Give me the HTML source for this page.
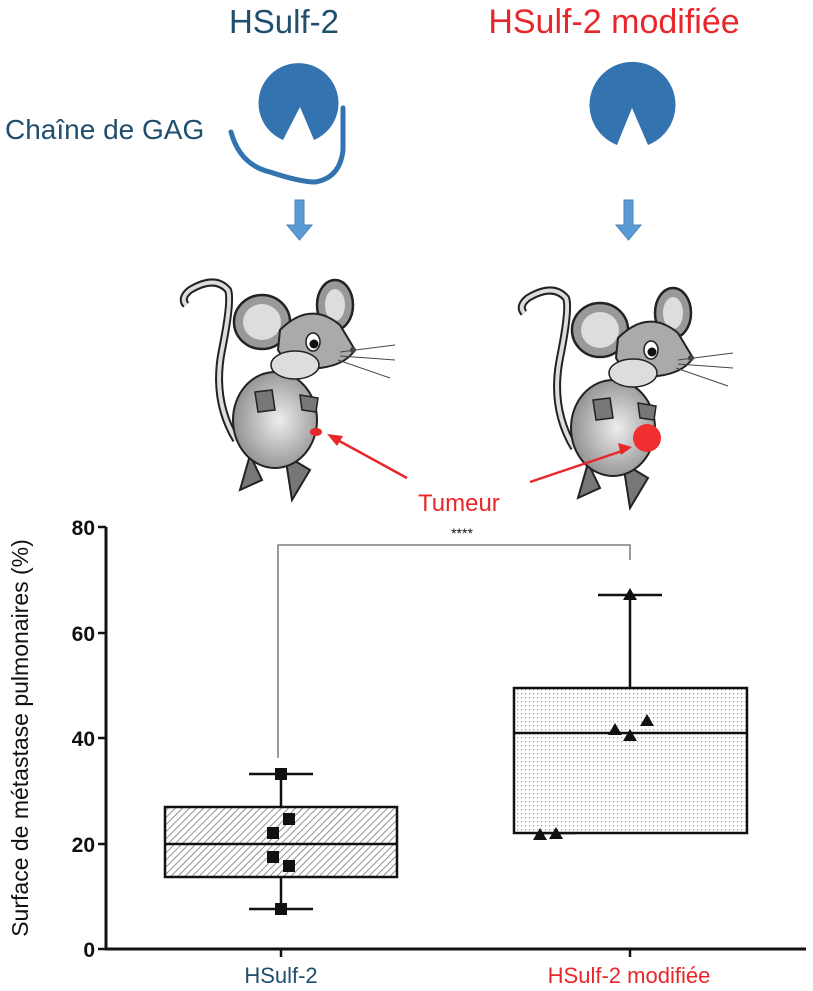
<!DOCTYPE html>
<html><head><meta charset="utf-8"><style>
html,body{margin:0;padding:0;background:#fff;}
svg{display:block;}
text{font-family:"Liberation Sans",Arial,sans-serif;}
</style></head><body>
<svg width="813" height="991" viewBox="0 0 813 991" xmlns="http://www.w3.org/2000/svg">
<defs>
<pattern id="hatch" width="5" height="5" patternUnits="userSpaceOnUse" patternTransform="rotate(45)">
<rect width="5" height="5" fill="#fff"/><line x1="0" y1="0" x2="0" y2="5" stroke="#777" stroke-width="1.6"/>
</pattern>
<pattern id="dots" width="4" height="4" patternUnits="userSpaceOnUse">
<rect width="4" height="4" fill="#fff"/><rect x="1" y="1" width="1.2" height="1.2" fill="#999"/>
</pattern>
<radialGradient id="mg" cx="0.55" cy="0.5" r="0.6"><stop offset="0" stop-color="#eee"/><stop offset="1" stop-color="#888"/></radialGradient>
<g id="mouse">
<path d="M236 440 Q212 400 222 350 Q232 300 228 290 Q215 275 190 290 Q180 298 186 305" fill="none" stroke="#222" stroke-width="8"/>
<path d="M236 440 Q212 400 222 350 Q232 300 228 290 Q215 275 190 290 Q180 298 186 305" fill="none" stroke="#ddd" stroke-width="4"/>
<path d="M250 455 L240 490 L262 480 Z M285 455 L292 500 L310 470 Z" fill="#777" stroke="#222" stroke-width="2"/>
<ellipse cx="275" cy="420" rx="42" ry="48" fill="url(#mg)" stroke="#222" stroke-width="2"/>
<ellipse cx="262" cy="322" rx="28" ry="27" fill="#999" stroke="#222" stroke-width="2.5"/>
<ellipse cx="262" cy="322" rx="19" ry="18" fill="#ddd"/>
<ellipse cx="335" cy="305" rx="18" ry="25" fill="#999" stroke="#222" stroke-width="2.5"/>
<ellipse cx="335" cy="305" rx="10" ry="16" fill="#ddd"/>
<path d="M280 330 Q310 300 340 325 L355 350 Q345 365 320 368 Q290 372 278 350 Z" fill="#aaa" stroke="#222" stroke-width="2"/>
<ellipse cx="313" cy="342" rx="7" ry="9" fill="#fff" stroke="#222" stroke-width="1.5"/><circle cx="314" cy="344" r="4.5" fill="#111"/>
<ellipse cx="295" cy="365" rx="24" ry="14" fill="#ddd" stroke="#222" stroke-width="1.5"/>
<circle cx="353" cy="350" r="3" fill="#444"/>
<path d="M340 352 L395 345 M340 356 L395 360 M338 360 L390 378" stroke="#444" stroke-width="1"/>
<path d="M255 392 L272 390 L275 410 L258 412 Z M300 395 L318 398 L316 412 L302 410 Z" fill="#777" stroke="#222" stroke-width="1.5"/>
</g>
</defs>

<text x="284" y="33" font-size="33" fill="#1f4e6e" text-anchor="middle">HSulf-2</text>
<text x="614" y="33" font-size="34" fill="#e8272a" text-anchor="middle">HSulf-2 modifiée</text>
<text x="5" y="139" font-size="28" fill="#1f4e6e">Chaîne de GAG</text>

<path d="M283 140 A40 40 0 1 1 314 140 L300 107 Z" fill="#3373b0"/>
<path d="M617 145 A43 43 0 1 1 648 145 L632 108 Z" fill="#3373b0"/>
<path d="M231 132 Q240 165 270 172 Q300 182 315 182 Q340 178 343 150 L343 108" fill="none" stroke="#3373b0" stroke-width="5" stroke-linecap="round"/>
<path d="M295 200 L304 200 L304 225 L312 225 L299.5 240 L287 225 L295 225 Z" fill="#5b9bd5" stroke="#4a84b8" stroke-width="1"/>
<path d="M624 200 L633 200 L633 225 L641 225 L628.5 240 L616 225 L624 225 Z" fill="#5b9bd5" stroke="#4a84b8" stroke-width="1"/>

<use href="#mouse" x="0" y="0"/>
<use href="#mouse" x="338" y="8"/>
<ellipse cx="316" cy="432" rx="6" ry="4" fill="#e8272a"/>
<circle cx="647" cy="438" r="14" fill="#f03030"/>
<line x1="407" y1="478" x2="332" y2="437" stroke="#e8272a" stroke-width="2.5"/>
<path d="M327 434 L343 436 L337 446 Z" fill="#e8272a"/>
<line x1="530" y1="482" x2="625" y2="450" stroke="#e8272a" stroke-width="2.5"/>
<path d="M632 447 L618 443 L621 455 Z" fill="#e8272a"/>
<text x="418" y="511" font-size="24" fill="#e8272a">Tumeur</text>

<!-- chart -->
<line x1="106" y1="527" x2="106" y2="950" stroke="#111" stroke-width="3"/>
<line x1="105" y1="949" x2="806" y2="949" stroke="#111" stroke-width="3"/>
<g stroke="#111" stroke-width="2.5">
<line x1="98" y1="527" x2="106" y2="527"/><line x1="98" y1="633" x2="106" y2="633"/>
<line x1="98" y1="738" x2="106" y2="738"/><line x1="98" y1="844" x2="106" y2="844"/>
<line x1="98" y1="949" x2="106" y2="949"/>
<line x1="281" y1="949" x2="281" y2="957"/><line x1="630" y1="949" x2="630" y2="957"/>
</g>
<g font-size="21" font-weight="bold" fill="#111" text-anchor="end">
<text x="95" y="535">80</text><text x="95" y="641">60</text><text x="95" y="746">40</text><text x="95" y="852">20</text><text x="95" y="957">0</text>
</g>
<text transform="translate(28,738) rotate(-90)" font-size="23" fill="#111" text-anchor="middle">Surface de métastase pulmonaires (%)</text>
<text x="281" y="983" font-size="22" fill="#1f4e6e" text-anchor="middle">HSulf-2</text>
<text x="629" y="983" font-size="22" fill="#e8272a" text-anchor="middle">HSulf-2 modifiée</text>

<polyline points="278,758 278,545 630,545 630,560" fill="none" stroke="#666" stroke-width="1.3"/>
<text x="462" y="538" font-size="14" fill="#111" text-anchor="middle">****</text>

<g stroke="#111" stroke-width="2.5" fill="none">
<line x1="281" y1="774" x2="281" y2="807"/><line x1="281" y1="877" x2="281" y2="909"/>
<line x1="249" y1="774" x2="313" y2="774"/><line x1="249" y1="909" x2="313" y2="909"/>
<rect x="165" y="807" width="232" height="70" fill="url(#hatch)"/>
<line x1="165" y1="844" x2="397" y2="844"/>
<line x1="630" y1="595" x2="630" y2="688"/>
<line x1="598" y1="595" x2="662" y2="595"/>
<line x1="535" y1="833" x2="575" y2="833"/>
<rect x="514" y="688" width="233" height="145" fill="url(#dots)"/>
<line x1="514" y1="733" x2="747" y2="733"/>
</g>
<g fill="#111">
<rect x="275" y="768" width="12" height="12"/><rect x="283" y="813" width="12" height="12"/>
<rect x="267" y="827" width="12" height="12"/><rect x="267" y="851" width="12" height="12"/>
<rect x="283" y="860" width="12" height="12"/><rect x="275" y="903" width="12" height="12"/>
<path d="M630 588 L637 600 L623 600 Z"/><path d="M615 723 L622 735 L608 735 Z"/>
<path d="M630 729 L637 741 L623 741 Z"/><path d="M647 714 L654 726 L640 726 Z"/>
<path d="M540 828 L547 840 L533 840 Z"/><path d="M556 827 L563 839 L549 839 Z"/>
</g>
</svg>
</body></html>
